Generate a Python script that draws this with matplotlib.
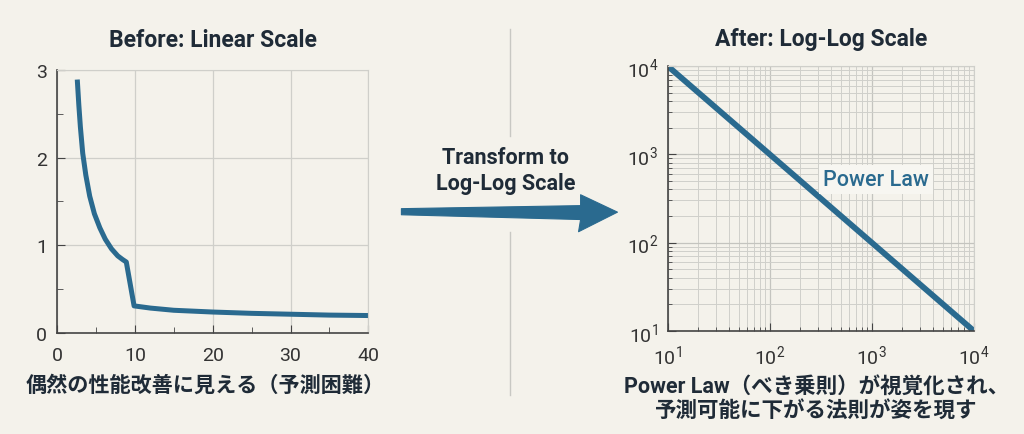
import matplotlib
matplotlib.use('Agg')
import matplotlib.pyplot as plt
from matplotlib.patches import Polygon
from matplotlib.ticker import MultipleLocator, LogLocator, NullFormatter

plt.rcParams['font.family'] = ['Roboto', 'Noto Sans CJK JP', 'DejaVu Sans']
plt.rcParams['mathtext.fontset'] = 'custom'
plt.rcParams['mathtext.rm'] = 'Roboto'
plt.rcParams['mathtext.it'] = 'Roboto'

# Left panel: noisy-looking curve on linear axes
lin_x = [2.6, 2.8, 3.0, 3.3, 3.7, 4.2, 4.8, 5.5, 6.2, 7.0, 7.8, 8.4, 8.9,
         9.9, 12.0, 15.0, 20.0, 25.0, 30.0, 35.0, 40.0]
lin_y = [2.89, 2.6, 2.35, 2.05, 1.8, 1.56, 1.36, 1.2, 1.07, 0.96, 0.88, 0.84, 0.81,
         0.31, 0.285, 0.26, 0.24, 0.225, 0.215, 0.205, 0.2]

# Right panel: power law on log-log axes
log_x = [10, 10000]
log_y = [10000, 10]

left_title = 'Before: Linear Scale'
right_title = 'After: Log-Log Scale'
arrow_text = 'Transform to\nLog-Log Scale'
left_caption = '偶然の性能改善に見える（予測困難）'
right_caption = 'Power Law（べき乗則）が視覚化され、\n予測可能に下がる法則が姿を現す'
line_label = 'Power Law'

BG = '#f4f2eb'
BLUE = '#2a6a8f'
DARK = '#1f2b37'
GRID = '#cfcfca'

fig = plt.figure(figsize=(10.24, 4.35), dpi=100, facecolor=BG)


def style_axes(ax):
    ax.set_axisbelow(True)
    ax.tick_params(which='both', direction='in', colors='#444444', labelsize=14,
                   labelcolor='#333333')
    ax.tick_params(which='major', length=6)
    ax.tick_params(axis='x', which='major', pad=9)
    ax.tick_params(axis='y', which='major', pad=7)
    for s in ['top', 'right']:
        ax.spines[s].set_color(GRID)
    for s in ['left', 'bottom']:
        ax.spines[s].set_color('#444444')
        ax.spines[s].set_linewidth(1.2)


# ---- left axes
ax1 = fig.add_axes([0.0557, 0.232, 0.304, 0.605], facecolor=BG)
ax1.plot(lin_x, lin_y, color=BLUE, linewidth=3.6, solid_capstyle='butt', solid_joinstyle='round')
ax1.set_xlim(0, 40)
ax1.set_ylim(0, 3)
ax1.xaxis.set_major_locator(MultipleLocator(10))
ax1.xaxis.set_minor_locator(MultipleLocator(5))
ax1.yaxis.set_major_locator(MultipleLocator(1))
ax1.yaxis.set_minor_locator(MultipleLocator(0.5))
ax1.grid(True, which='major', color=GRID, linewidth=0.9)
style_axes(ax1)
ax1.tick_params(which='minor', length=4)
ax1.set_title(left_title, fontsize=16.5, fontweight='bold', color=DARK, pad=17)

# ---- right axes
ax2 = fig.add_axes([0.652, 0.237, 0.299, 0.609], facecolor=BG)
ax2.plot(log_x, log_y, color=BLUE, linewidth=4.2, solid_capstyle='butt')
ax2.set_xscale('log')
ax2.set_yscale('log')
ax2.set_xlim(10, 10000)
ax2.set_ylim(10, 10000)
ax2.xaxis.set_major_locator(LogLocator(base=10, numticks=10))
ax2.yaxis.set_major_locator(LogLocator(base=10, numticks=10))
ax2.xaxis.set_minor_locator(LogLocator(base=10, subs=range(2, 10), numticks=20))
ax2.yaxis.set_minor_locator(LogLocator(base=10, subs=range(2, 10), numticks=20))
ax2.xaxis.set_minor_formatter(NullFormatter())
ax2.yaxis.set_minor_formatter(NullFormatter())
ax2.grid(True, which='major', color='#c4c4bf', linewidth=0.9)
ax2.grid(True, which='minor', color=GRID, linewidth=0.7)
style_axes(ax2)
ax2.tick_params(which='minor', length=3)
ax2.text(1100, 520, line_label, color=BLUE, fontsize=15.5, fontweight='medium',
         ha='center', va='center',
         bbox=dict(boxstyle='square,pad=0.2', facecolor='#f7f6f1', edgecolor='none'))
ax2.set_title(right_title, fontsize=16.5, fontweight='bold', color=DARK, pad=15)

# ---- captions
fig.text(0.200, 0.113, left_caption, ha='center', va='center', fontsize=15.2,
         fontweight='bold', color=DARK)
fig.text(0.797, 0.083, right_caption, ha='center', va='center', fontsize=15.5,
         fontweight='bold', color=DARK, linespacing=1.15)

# ---- separator and arrow
fig.add_artist(plt.Line2D([0.4985, 0.4985], [0.93, 0.685], transform=fig.transFigure,
                          color='#c8c8c3', linewidth=1))
fig.add_artist(plt.Line2D([0.4985, 0.4985], [0.465, 0.09], transform=fig.transFigure,
                          color='#c8c8c3', linewidth=1))
fig.text(0.494, 0.607, arrow_text, ha='center', va='center', fontsize=15.5,
         fontweight='bold', color=DARK, linespacing=1.25)
arrow_pts = [(0.392, 0.518), (0.567, 0.525), (0.567, 0.550), (0.603, 0.510),
             (0.565, 0.465), (0.567, 0.493), (0.392, 0.504)]
fig.add_artist(Polygon(arrow_pts, closed=True, transform=fig.transFigure,
                       facecolor=BLUE, edgecolor=BLUE, linewidth=0.8, joinstyle='round'))

fig.savefig('out.png', dpi=100, facecolor=BG)
